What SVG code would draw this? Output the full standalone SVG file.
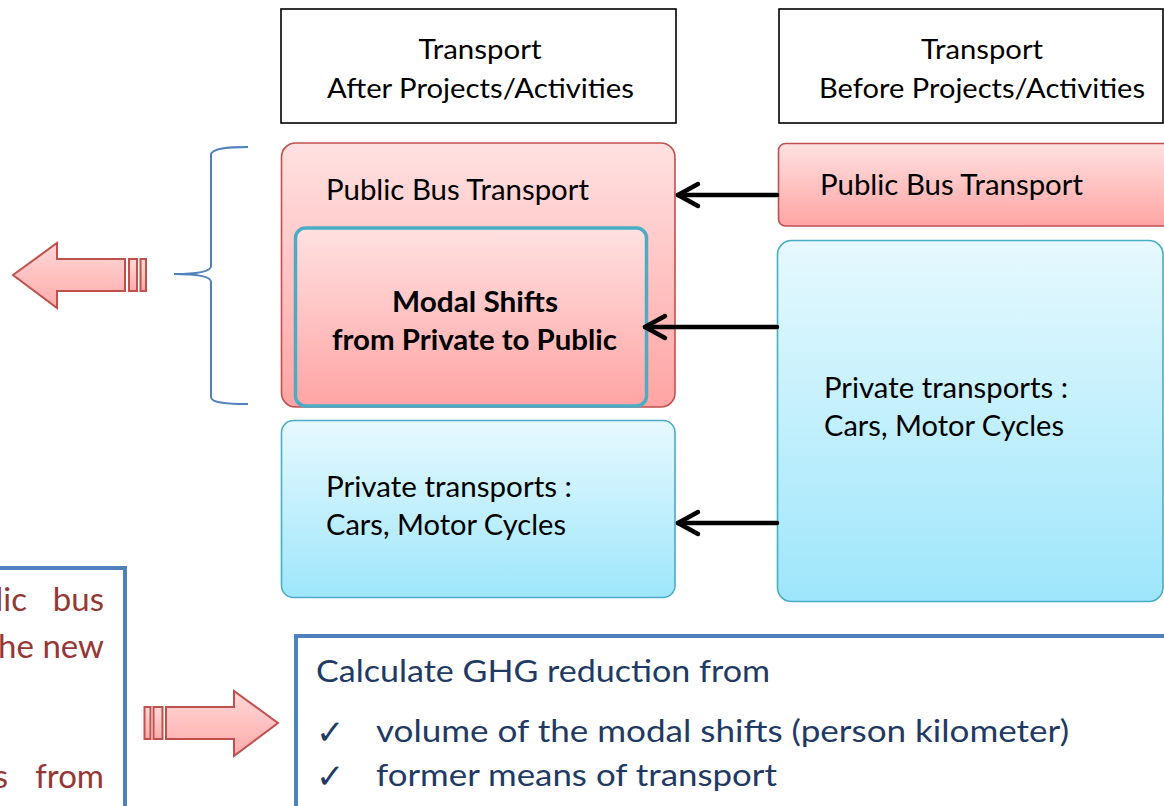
<svg xmlns="http://www.w3.org/2000/svg" width="1164" height="806" viewBox="0 0 1164 806">
  <defs>
    <linearGradient id="gPink" x1="0" y1="0" x2="0" y2="1">
      <stop offset="0" stop-color="#ffe1e1"/>
      <stop offset="1" stop-color="#ffa4a4"/>
    </linearGradient>
    <linearGradient id="gBlue" x1="0" y1="0" x2="0" y2="1">
      <stop offset="0" stop-color="#e6f9fe"/>
      <stop offset="1" stop-color="#9ee6fb"/>
    </linearGradient>
    <linearGradient id="gArrow" x1="0" y1="0" x2="0" y2="1">
      <stop offset="0" stop-color="#ffd8d8"/>
      <stop offset="1" stop-color="#ffaaaa"/>
    </linearGradient>
    <style>
      text { font-family: Lato, "Liberation Sans", sans-serif; fill: #000; }
      .hdr { fill: #fff; stroke: #000; stroke-width: 1.6; }
      .pink { fill: url(#gPink); stroke: #c0504d; stroke-width: 1.6; }
      .blue { fill: url(#gBlue); stroke: #4bacc6; stroke-width: 1.6; }
      .t27 { font-size: 27px; }
      .t28 { font-size: 28px; }
      .bold { font-weight: 700; }
      .conn { stroke: #000; stroke-width: 4.5; fill: none; stroke-linecap: round; stroke-linejoin: round; }
      .blk { fill: url(#gArrow); stroke: #c0504d; stroke-width: 2; stroke-linejoin: miter; }
      .frame { fill: #fff; stroke: #4f81bd; stroke-width: 4; }
      .red { fill: #953735; font-size: 33px; }
      .navy { fill: #1f3a64; font-size: 31px; }
      .check { font-family: "DejaVu Sans", sans-serif; font-size: 34px; fill: #1f3a64; }
    </style>
  </defs>

  <g id="header-after">
    <rect class="hdr" x="281" y="9" width="395" height="114"/>
    <text class="t27" x="480" y="59" text-anchor="middle" textLength="123" lengthAdjust="spacingAndGlyphs">Transport</text>
    <text class="t27" x="480.5" y="98" text-anchor="middle" textLength="307" lengthAdjust="spacingAndGlyphs">After Projects/Activities</text>
  </g>

  <g id="header-before">
    <rect class="hdr" x="779" y="9" width="384" height="114"/>
    <text class="t27" x="982" y="59" text-anchor="middle" textLength="122" lengthAdjust="spacingAndGlyphs">Transport</text>
    <text class="t27" x="982" y="98" text-anchor="middle" textLength="326" lengthAdjust="spacingAndGlyphs">Before Projects/Activities</text>
  </g>

  <g id="after-public-bus">
    <rect class="pink" x="281.5" y="143" width="393.5" height="264" rx="14"/>
    <text class="t28" x="326" y="200" textLength="263" lengthAdjust="spacingAndGlyphs">Public Bus Transport</text>
  </g>

  <g id="modal-shifts">
    <rect x="295.5" y="228" width="351" height="178" rx="10" fill="url(#gPink)" stroke="#4bacc6" stroke-width="3.5"/>
    <text class="t28 bold" x="475" y="312" text-anchor="middle" textLength="166" lengthAdjust="spacingAndGlyphs">Modal Shifts</text>
    <text class="t28 bold" x="474.5" y="350" text-anchor="middle" textLength="285" lengthAdjust="spacingAndGlyphs">from Private to Public</text>
  </g>

  <g id="after-private">
    <rect class="blue" x="281.5" y="420.5" width="393.5" height="177" rx="12"/>
    <text class="t28" x="326" y="497" textLength="246" lengthAdjust="spacingAndGlyphs">Private transports :</text>
    <text class="t28" x="326" y="535" textLength="240" lengthAdjust="spacingAndGlyphs">Cars, Motor Cycles</text>
  </g>

  <g id="before-public-bus">
    <rect class="pink" x="778.5" y="143.5" width="400" height="82.5" rx="7"/>
    <text class="t28" x="820" y="195" textLength="263" lengthAdjust="spacingAndGlyphs">Public Bus Transport</text>
  </g>

  <g id="before-private">
    <rect class="blue" x="777.5" y="240.5" width="385.5" height="361" rx="14"/>
    <text class="t28" x="824" y="398" textLength="244" lengthAdjust="spacingAndGlyphs">Private transports :</text>
    <text class="t28" x="824" y="436" textLength="240" lengthAdjust="spacingAndGlyphs">Cars, Motor Cycles</text>
  </g>

  <g id="connectors">
    <line class="conn" x1="777" y1="195" x2="678" y2="195"/>
    <polyline class="conn" points="698,184 678,195 698,206"/>
    <line class="conn" x1="777" y1="327" x2="645" y2="327"/>
    <polyline class="conn" points="665,316 645,327 665,338"/>
    <line class="conn" x1="777" y1="523" x2="678" y2="523"/>
    <polyline class="conn" points="698,512 678,523 698,534"/>
  </g>

  <g id="brace">
    <path d="M248,147 C228,147 211,148 211,155 L211,266 C211,272 195,274 174,274 C195,274 211,276 211,282 L211,397 C211,403 228,404 248,404" fill="none" stroke="#4f81bd" stroke-width="2"/>
  </g>

  <g id="left-block-arrow">
    <polygon class="blk" points="13,275 57,243 57,259 125,259 125,291 57,291 57,308"/>
    <rect class="blk" x="129" y="259" width="8" height="32"/>
    <rect class="blk" x="140.5" y="259" width="5.5" height="32"/>
  </g>

  <g id="left-text-box">
    <rect class="frame" x="-10" y="568" width="135" height="260"/>
    <text class="red" x="27" y="611" text-anchor="end">lic</text>
    <text class="red" x="104" y="611" text-anchor="end">bus</text>
    <text class="red" x="104" y="658" text-anchor="end">he new</text>
    <text class="red" x="8" y="788" text-anchor="end">s</text>
    <text class="red" x="104" y="788" text-anchor="end">from</text>
  </g>

  <g id="right-block-arrow">
    <rect class="blk" x="144.5" y="707" width="6" height="32"/>
    <rect class="blk" x="153.5" y="707" width="9" height="32"/>
    <polygon class="blk" points="166,707 234,707 234,691 278,723 234,756 234,739 166,739"/>
  </g>

  <g id="ghg-box">
    <rect class="frame" x="296" y="636" width="890" height="200"/>
    <text class="navy" x="316" y="682" textLength="454" lengthAdjust="spacingAndGlyphs">Calculate GHG reduction from</text>
    <text class="check" x="316" y="744">✓</text>
    <text class="navy" x="376" y="742" textLength="693" lengthAdjust="spacingAndGlyphs">volume of the modal shifts (person kilometer)</text>
    <text class="check" x="316" y="788">✓</text>
    <text class="navy" x="376" y="786" textLength="401" lengthAdjust="spacingAndGlyphs">former means of transport</text>
  </g>
</svg>
